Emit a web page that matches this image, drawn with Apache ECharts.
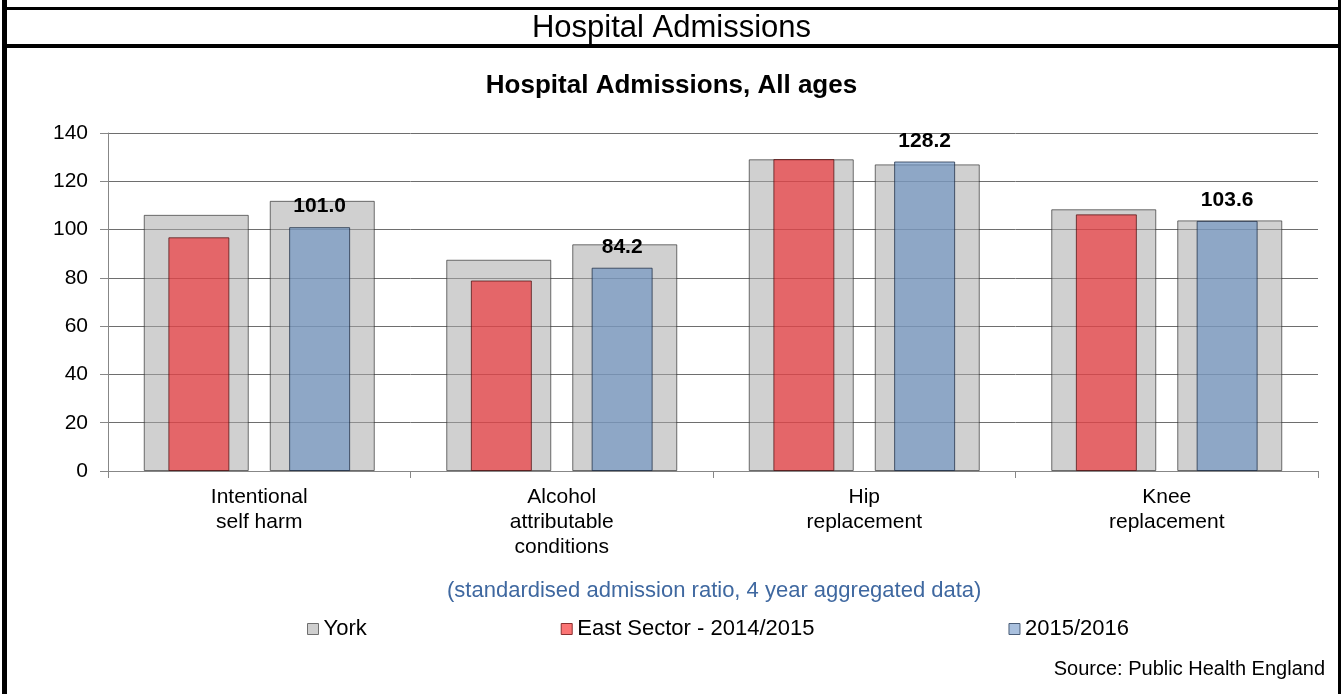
<!DOCTYPE html>
<html>
<head>
<meta charset="utf-8">
<script src="https://cdn.jsdelivr.net/npm/echarts@6/dist/echarts.min.js"></script>
<style>
  html, body { margin: 0; padding: 0; background: #fff; }
  #chart { width: 1343px; height: 694px; }
</style>
</head>
<body>
<div id="chart"></div>
<script>
const categories = ['Intentional\nself harm', 'Alcohol\nattributable\nconditions', 'Hip\nreplacement', 'Knee\nreplacement']
const york1415 = [106.1, 87.5, 129.1, 108.4]
const york1516 = [111.9, 93.9, 127.0, 103.8]
const east1415 = [96.8, 78.9, 129.2, 106.3]
const east1516 = [101.0, 84.2, 128.2, 103.6]
const yTicks = [0, 20, 40, 60, 80, 100, 120, 140]

const font = 'Liberation Sans, Arial, sans-serif'
const gridColor = '#878787'

const chart = echarts.init(document.getElementById('chart'))

// bars are see-through so the grid lines show in them, as in the original
const option = {
  animation: false,
  textStyle: { fontFamily: font },
  title: [
    {
      text: 'Hospital Admissions',
      left: 'center',
      top: 13,
      padding: 0,
      textStyle: { fontFamily: font, fontSize: 31, fontWeight: 'normal', color: '#000' }
    },
    {
      text: 'Hospital Admissions, All ages',
      left: 'center',
      top: 73,
      padding: 0,
      textStyle: { fontFamily: font, fontSize: 26, fontWeight: 'bold', color: '#000' }
    },
    {
      text: '(standardised admission ratio, 4 year aggregated data)',
      left: 447,
      top: 580,
      padding: 0,
      textStyle: { fontFamily: font, fontSize: 22, fontWeight: 'normal', color: '#3f68a0' }
    },
    {
      text: 'Source: Public Health England',
      right: 18,
      top: 659,
      padding: 0,
      textStyle: { fontFamily: font, fontSize: 20, fontWeight: 'normal', color: '#000' }
    }
  ],
  legend: {
    left: 307,
    top: 618,
    itemWidth: 11,
    itemHeight: 11,
    itemGap: 194,
    icon: 'rect',
    padding: 0,
    textStyle: { fontFamily: font, fontSize: 22, color: '#000' },
    data: [
      { name: 'York', itemStyle: { color: '#cfcfcf', borderColor: '#6f6f6f', borderWidth: 1 } },
      { name: 'East Sector - 2014/2015', itemStyle: { color: '#fb7474', borderColor: '#8a3030', borderWidth: 1 } },
      { name: '2015/2016', itemStyle: { color: '#a9c0de', borderColor: '#4a5d78', borderWidth: 1 } }
    ]
  },
  grid: { left: 108, right: 25, top: 133, bottom: 223, containLabel: false },
  xAxis: [
    {
      type: 'category',
      data: categories,
      axisLine: { lineStyle: { color: gridColor } },
      axisTick: { show: true, length: 7, lineStyle: { color: gridColor } },
      axisLabel: { fontFamily: font, fontSize: 21, color: '#000', lineHeight: 25, margin: 14, interval: 0 }
    },
    {
      type: 'category',
      data: categories,
      show: false
    }
  ],
  yAxis: {
    type: 'value',
    min: yTicks[0],
    max: yTicks[yTicks.length - 1],
    interval: 20,
    axisLine: { show: true, lineStyle: { color: gridColor } },
    axisTick: { show: true, inside: false, length: 8, lineStyle: { color: gridColor } },
    splitLine: { lineStyle: { color: '#6e6e6e', width: 1 } },
    axisLabel: { fontFamily: font, fontSize: 21, color: '#000', margin: 20 }
  },
  series: [
    {
      name: 'York',
      type: 'bar',
      xAxisIndex: 0,
      data: york1415,
      barWidth: 105,
      barGap: '20%',
      itemStyle: { color: 'rgba(170,170,170,0.55)', borderColor: 'rgba(40,40,40,0.65)', borderWidth: 1 }
    },
    {
      name: 'York',
      type: 'bar',
      xAxisIndex: 0,
      data: york1516,
      barWidth: 105,
      barGap: '20%',
      itemStyle: { color: 'rgba(170,170,170,0.55)', borderColor: 'rgba(40,40,40,0.65)', borderWidth: 1 }
    },
    {
      name: 'East Sector - 2014/2015',
      type: 'bar',
      xAxisIndex: 1,
      data: east1415,
      barWidth: 61,
      barGap: '98%',
      itemStyle: { color: 'rgba(241,31,36,0.6)', borderColor: 'rgba(70,10,10,0.7)', borderWidth: 1 }
    },
    {
      name: '2015/2016',
      type: 'bar',
      xAxisIndex: 1,
      data: east1516,
      barWidth: 61,
      barGap: '98%',
      itemStyle: { color: 'rgba(108,146,194,0.65)', borderColor: 'rgba(20,35,60,0.7)', borderWidth: 1 },
      label: {
        show: true,
        position: 'top',
        distance: 10,
        fontFamily: font,
        fontSize: 21,
        fontWeight: 'bold',
        color: '#000',
        formatter: p => p.value.toFixed(1)
      }
    }
  ],
  graphic: [
    { type: 'rect', shape: { x: 2, y: 0, width: 5, height: 694 }, style: { fill: '#000' } },
    { type: 'rect', shape: { x: 1338, y: 0, width: 3, height: 694 }, style: { fill: '#000' } },
    { type: 'rect', shape: { x: 2, y: 7, width: 1339, height: 3 }, style: { fill: '#000' } },
    { type: 'rect', shape: { x: 2, y: 44, width: 1339, height: 4 }, style: { fill: '#000' } }
  ]
}

option && chart.setOption(option)
</script>
</body>
</html>
